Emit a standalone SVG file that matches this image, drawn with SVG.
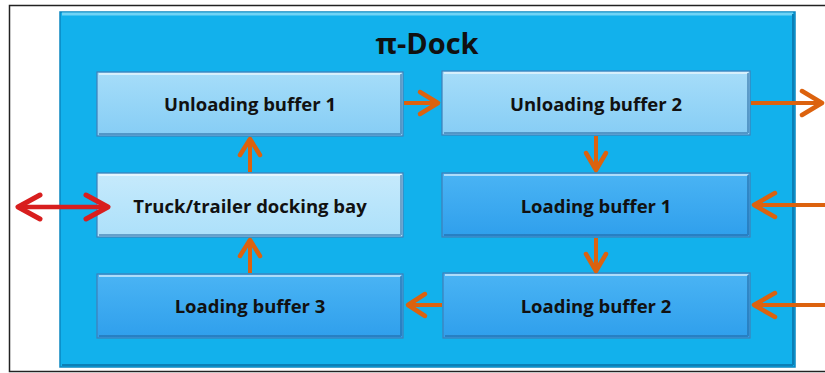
<svg xmlns="http://www.w3.org/2000/svg" width="825" height="373" viewBox="0 0 825 373">
<defs>
<style>
.lbl{font-family:"Open Sans","Liberation Sans",sans-serif;font-weight:bold;font-size:18.5px;fill:#111;text-anchor:middle;dominant-baseline:central}
.box{stroke:#3f7fb8;stroke-width:1.2}
.hl{fill:none;stroke:#ffffff;stroke-opacity:0.55;stroke-width:2}
.sh{fill:none;stroke:#1e5f9a;stroke-opacity:0.5;stroke-width:2}
.arr{stroke:#dc620e;stroke-width:4;fill:none}
.head{stroke:#dc620e;stroke-width:4.5;fill:none;stroke-linecap:round;stroke-linejoin:round}
.rarr{stroke:#d81e1e;stroke-width:4.5;fill:none}
.rhead{stroke:#d81e1e;stroke-width:5;fill:none;stroke-linecap:round;stroke-linejoin:round}
</style>
<linearGradient id="gUn" x1="0" y1="0" x2="0" y2="1">
<stop offset="0" stop-color="#a6ddf9"/><stop offset="1" stop-color="#86cdf5"/>
</linearGradient>
<linearGradient id="gTr" x1="0" y1="0" x2="0" y2="1">
<stop offset="0" stop-color="#c6eafc"/><stop offset="1" stop-color="#ace0fa"/>
</linearGradient>
<linearGradient id="gLo" x1="0" y1="0" x2="0" y2="1">
<stop offset="0" stop-color="#4ab4f4"/><stop offset="1" stop-color="#2f9fec"/>
</linearGradient>
</defs>
<rect x="0" y="0" width="825" height="373" fill="#ffffff"/>
<rect x="9.5" y="5.5" width="830" height="366" fill="#ffffff" stroke="#222" stroke-width="1.5"/>
<g id="container">
<rect x="60" y="12" width="735" height="355" fill="#12b1ec" stroke="#0a86c0" stroke-width="1.5"/>
<path d="M62,14 H793" stroke="#6fd3f6" stroke-width="3"/>
<path d="M62,365 H793 M793,14 V365" stroke="#0b7fb6" stroke-width="2"/>
<text x="427" y="42" font-family="'Open Sans','Liberation Sans',sans-serif" font-weight="bold" font-size="29" fill="#111" text-anchor="middle" dominant-baseline="central">π-Dock</text>
</g>
<g id="ub1">
<rect class="box" x="97" y="72" width="306" height="64" fill="url(#gUn)"/>
<path class="hl" d="M99,74 H401"/><path class="sh" d="M99,134 H401 M401,74 V134"/>
<text class="lbl" x="250" y="103">Unloading buffer 1</text>
</g>
<g id="ub2">
<rect class="box" x="442" y="71" width="308" height="64" fill="url(#gUn)"/>
<path class="hl" d="M444,73 H748"/><path class="sh" d="M444,133 H748 M748,73 V133"/>
<text class="lbl" x="596" y="103">Unloading buffer 2</text>
</g>
<g id="truck">
<rect class="box" x="97" y="173" width="306" height="64" fill="url(#gTr)"/>
<path class="hl" d="M99,175 H401"/><path class="sh" d="M99,235 H401 M401,175 V235"/>
<text class="lbl" x="250" y="205">Truck/trailer docking bay</text>
</g>
<g id="lb1">
<rect class="box" x="442" y="173" width="308" height="64" fill="url(#gLo)"/>
<path class="hl" d="M444,175 H748"/><path class="sh" d="M444,235 H748 M748,175 V235"/>
<text class="lbl" x="596" y="205">Loading buffer 1</text>
</g>
<g id="lb3">
<rect class="box" x="97" y="274" width="306" height="64" fill="url(#gLo)"/>
<path class="hl" d="M99,276 H401"/><path class="sh" d="M99,336 H401 M401,276 V336"/>
<text class="lbl" x="250" y="305">Loading buffer 3</text>
</g>
<g id="lb2">
<rect class="box" x="443" y="273" width="307" height="65" fill="url(#gLo)"/>
<path class="hl" d="M445,275 H748"/><path class="sh" d="M445,336 H748 M748,275 V336"/>
<text class="lbl" x="596" y="305">Loading buffer 2</text>
</g>
<g id="connectors">
<path class="arr" d="M404,103 H437"/><path class="head" d="M420,92 L438,103 L420,114"/>
<path class="arr" d="M751,103 H821"/><path class="head" d="M802,91 L822,103 L802,115"/>
<path class="arr" d="M596,136 V169"/><path class="head" d="M586,153 L596,170 L606,153"/>
<path class="arr" d="M825,205 H755"/><path class="head" d="M775,193 L754,205 L775,217"/>
<path class="arr" d="M596,238 V270"/><path class="head" d="M586,254 L596,271 L606,254"/>
<path class="arr" d="M825,305 H755"/><path class="head" d="M775,293 L754,305 L775,317"/>
<path class="arr" d="M442,305 H409"/><path class="head" d="M425,294 L408,305 L425,316"/>
<path class="arr" d="M250,273 V241"/><path class="head" d="M240,256 L250,240 L260,256"/>
<path class="arr" d="M250,172 V140"/><path class="head" d="M240,155 L250,139 L260,155"/>
<path class="rarr" d="M19,207 H105"/>
<path class="rhead" d="M40,195 L18,207 L40,219"/>
<path class="rhead" d="M86,195 L108,207 L86,219"/>
</g>
</svg>
